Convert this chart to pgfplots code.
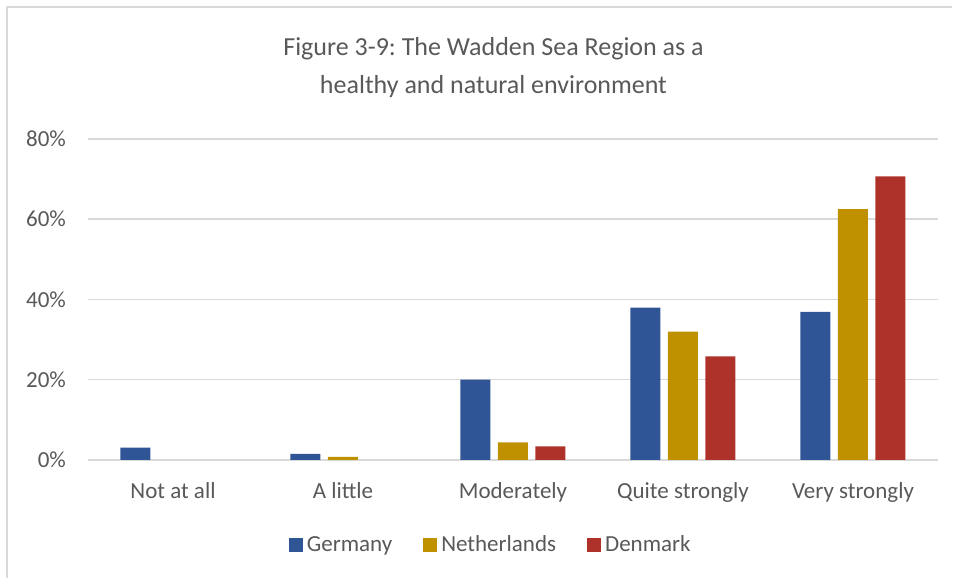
\documentclass[border=0pt]{standalone}
\usepackage{fontspec}
\setmainfont{Carlito}
\usepackage{pgfplots}
\pgfplotsset{compat=1.18}
\definecolor{txt}{HTML}{595959}
\definecolor{gridc}{HTML}{D9D9D9}
\definecolor{cde}{HTML}{2F5597}
\definecolor{cnl}{HTML}{BF9000}
\definecolor{cdk}{HTML}{AE3229}
\begin{document}
\frenchspacing
\begin{tikzpicture}
\path[use as bounding box] (-44pt,-59pt) rectangle (433.5pt,230pt);
\draw[gridc, line width=1pt] (-40.5pt,-59pt) -- (-40.5pt,226.5pt) -- (432pt,226.5pt);
\node[txt, align=center, font=\fontsize{13}{19}\selectfont] at (202.75pt,196pt) {Figure 3-9: The Wadden Sea Region as a\\healthy and natural environment};
\begin{axis}[
 at={(0,0)}, anchor=south west,
 scale only axis, width=425pt, height=160.5pt,
 xmin=-0.5, xmax=4.5, ymin=0, ymax=80,
 ybar=3.75pt, bar width=15pt,
 xtick={0,1,2,3,4},
 xticklabels={Not at all, A little, Moderately, Quite strongly, Very strongly},
 ytick={0,20,40,60,80},
 yticklabel={\pgfmathprintnumber{\tick}\%},
 /pgf/number format/assume math mode=true,
 ymajorgrids, grid style={gridc, line width=0.75pt},
 axis line style={draw=none},
 major tick length=0pt,
 tick label style={txt, font=\fontsize{11.5}{13}\selectfont},
 yticklabel style={xshift=-7.5pt},
 xticklabel style={yshift=-7.5pt},
 legend style={at={(0.475,-0.265)}, anchor=center, draw=none, fill=none,
   legend columns=3, font=\fontsize{11.5}{13}\selectfont, text=txt,
   /tikz/every even column/.append style={column sep=13.5pt},
   legend cell align=left},
 legend image code/.code={\draw[#1, draw=none] (0pt,-3.5pt) rectangle (7pt,3.5pt);},
]
\addplot[fill=cde, draw=none] coordinates {(0,3.1) (1,1.5) (2,20.0) (3,38.0) (4,36.9)};
\addplot[fill=cnl, draw=none] coordinates {(1,0.75) (2,4.4) (3,32.0) (4,62.5)};
\addplot[fill=cdk, draw=none] coordinates {(2,3.4) (3,25.8) (4,70.7)};
\legend{Germany, Netherlands, Denmark}
\end{axis}
\end{tikzpicture}
\end{document}
